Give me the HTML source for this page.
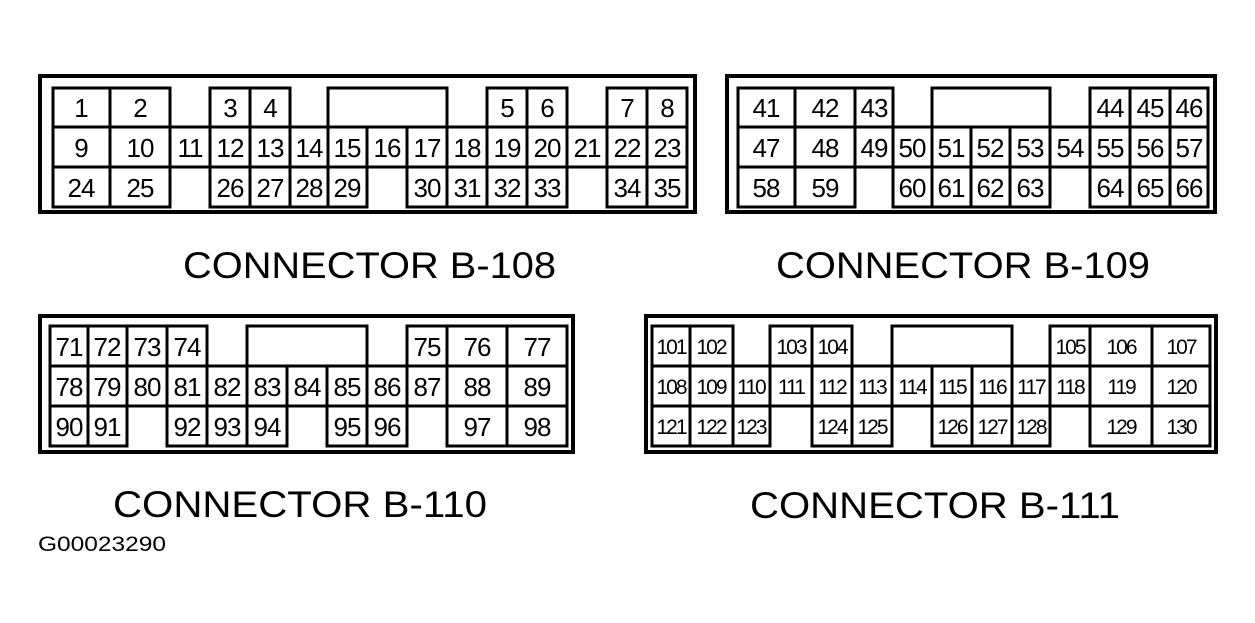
<!DOCTYPE html>
<html><head><meta charset="utf-8"><style>
html,body{margin:0;padding:0;background:#fff;width:1255px;height:623px;overflow:hidden}
svg{display:block}
.c rect,.c path{fill:none;stroke:#000;stroke-width:3}
.f{fill:none;stroke:#000;stroke-width:4}
text{font-family:"Liberation Sans",sans-serif;fill:#000}
.n{font-size:26px;text-anchor:middle;letter-spacing:-1px}
.s{font-size:21px;text-anchor:middle;letter-spacing:-2px}
.t{font-size:37px}
</style></head><body>
<svg width="1255" height="623" viewBox="0 0 1255 623">
<!-- B-108 -->
<rect class="f" x="40" y="76" width="655" height="136"/>
<g class="c">
<rect x="53" y="88" width="57" height="39"/><rect x="110" y="88" width="60" height="39"/><rect x="210" y="88" width="40" height="39"/><rect x="250" y="88" width="40" height="39"/>
<path d="M328,127V88H447V127"/>
<rect x="487" y="88" width="40" height="39"/><rect x="527" y="88" width="40" height="39"/><rect x="607" y="88" width="40" height="39"/><rect x="647" y="88" width="40" height="39"/>
<rect x="53" y="127" width="57" height="40"/><rect x="110" y="127" width="60" height="40"/><rect x="170" y="127" width="40" height="40"/><rect x="210" y="127" width="40" height="40"/><rect x="250" y="127" width="40" height="40"/><rect x="290" y="127" width="38" height="40"/><rect x="328" y="127" width="39" height="40"/><rect x="367" y="127" width="40" height="40"/><rect x="407" y="127" width="40" height="40"/><rect x="447" y="127" width="40" height="40"/><rect x="487" y="127" width="40" height="40"/><rect x="527" y="127" width="40" height="40"/><rect x="567" y="127" width="40" height="40"/><rect x="607" y="127" width="40" height="40"/><rect x="647" y="127" width="40" height="40"/>
<rect x="53" y="167" width="57" height="40"/><rect x="110" y="167" width="60" height="40"/><rect x="210" y="167" width="40" height="40"/><rect x="250" y="167" width="40" height="40"/><rect x="290" y="167" width="38" height="40"/><rect x="328" y="167" width="39" height="40"/><rect x="407" y="167" width="40" height="40"/><rect x="447" y="167" width="40" height="40"/><rect x="487" y="167" width="40" height="40"/><rect x="527" y="167" width="40" height="40"/><rect x="607" y="167" width="40" height="40"/><rect x="647" y="167" width="40" height="40"/>
</g>
<g class="n">
<text x="81" y="117">1</text><text x="140" y="117">2</text><text x="230" y="117">3</text><text x="270" y="117">4</text><text x="507" y="117">5</text><text x="547" y="117">6</text><text x="627" y="117">7</text><text x="667" y="117">8</text>
<text x="81" y="157">9</text><text x="140" y="157">10</text><text x="190" y="157">11</text><text x="230" y="157">12</text><text x="270" y="157">13</text><text x="309" y="157">14</text><text x="347" y="157">15</text><text x="387" y="157">16</text><text x="427" y="157">17</text><text x="467" y="157">18</text><text x="507" y="157">19</text><text x="547" y="157">20</text><text x="587" y="157">21</text><text x="627" y="157">22</text><text x="667" y="157">23</text>
<text x="81" y="197">24</text><text x="140" y="197">25</text><text x="230" y="197">26</text><text x="270" y="197">27</text><text x="309" y="197">28</text><text x="347" y="197">29</text><text x="427" y="197">30</text><text x="467" y="197">31</text><text x="507" y="197">32</text><text x="547" y="197">33</text><text x="627" y="197">34</text><text x="667" y="197">35</text>
</g>
<!-- B-109 -->
<rect class="f" x="727" y="76" width="488" height="136"/>
<g class="c">
<rect x="738" y="88" width="57" height="39"/><rect x="795" y="88" width="60" height="39"/><rect x="855" y="88" width="38" height="39"/>
<path d="M932,127V88H1050V127"/>
<rect x="1090" y="88" width="40" height="39"/><rect x="1130" y="88" width="40" height="39"/><rect x="1170" y="88" width="38" height="39"/>
<rect x="738" y="127" width="57" height="40"/><rect x="795" y="127" width="60" height="40"/><rect x="855" y="127" width="38" height="40"/><rect x="893" y="127" width="39" height="40"/><rect x="932" y="127" width="39" height="40"/><rect x="971" y="127" width="39" height="40"/><rect x="1010" y="127" width="40" height="40"/><rect x="1050" y="127" width="40" height="40"/><rect x="1090" y="127" width="40" height="40"/><rect x="1130" y="127" width="40" height="40"/><rect x="1170" y="127" width="38" height="40"/>
<rect x="738" y="167" width="57" height="40"/><rect x="795" y="167" width="60" height="40"/><rect x="893" y="167" width="39" height="40"/><rect x="932" y="167" width="39" height="40"/><rect x="971" y="167" width="39" height="40"/><rect x="1010" y="167" width="40" height="40"/><rect x="1090" y="167" width="40" height="40"/><rect x="1130" y="167" width="40" height="40"/><rect x="1170" y="167" width="38" height="40"/>
</g>
<g class="n">
<text x="766" y="117">41</text><text x="825" y="117">42</text><text x="874" y="117">43</text><text x="1110" y="117">44</text><text x="1150" y="117">45</text><text x="1189" y="117">46</text>
<text x="766" y="157">47</text><text x="825" y="157">48</text><text x="874" y="157">49</text><text x="912" y="157">50</text><text x="951" y="157">51</text><text x="990" y="157">52</text><text x="1030" y="157">53</text><text x="1070" y="157">54</text><text x="1110" y="157">55</text><text x="1150" y="157">56</text><text x="1189" y="157">57</text>
<text x="766" y="197">58</text><text x="825" y="197">59</text><text x="912" y="197">60</text><text x="951" y="197">61</text><text x="990" y="197">62</text><text x="1030" y="197">63</text><text x="1110" y="197">64</text><text x="1150" y="197">65</text><text x="1189" y="197">66</text>
</g>
<text class="t" x="183" y="278" textLength="373" lengthAdjust="spacingAndGlyphs">CONNECTOR B-108</text>
<text class="t" x="776" y="278" textLength="374" lengthAdjust="spacingAndGlyphs">CONNECTOR B-109</text>
<!-- B-110 -->
<rect class="f" x="40" y="316" width="533" height="136"/>
<g class="c">
<rect x="50" y="326" width="38" height="40"/><rect x="88" y="326" width="39" height="40"/><rect x="127" y="326" width="40" height="40"/><rect x="167" y="326" width="40" height="40"/>
<path d="M247,366V326H367V366"/>
<rect x="407" y="326" width="40" height="40"/><rect x="447" y="326" width="60" height="40"/><rect x="507" y="326" width="60" height="40"/>
<rect x="50" y="366" width="38" height="40"/><rect x="88" y="366" width="39" height="40"/><rect x="127" y="366" width="40" height="40"/><rect x="167" y="366" width="40" height="40"/><rect x="207" y="366" width="40" height="40"/><rect x="247" y="366" width="40" height="40"/><rect x="287" y="366" width="40" height="40"/><rect x="327" y="366" width="40" height="40"/><rect x="367" y="366" width="40" height="40"/><rect x="407" y="366" width="40" height="40"/><rect x="447" y="366" width="60" height="40"/><rect x="507" y="366" width="60" height="40"/>
<rect x="50" y="406" width="38" height="40"/><rect x="88" y="406" width="39" height="40"/><rect x="167" y="406" width="40" height="40"/><rect x="207" y="406" width="40" height="40"/><rect x="247" y="406" width="40" height="40"/><rect x="327" y="406" width="40" height="40"/><rect x="367" y="406" width="40" height="40"/><rect x="447" y="406" width="60" height="40"/><rect x="507" y="406" width="60" height="40"/>
</g>
<g class="n">
<text x="69" y="356">71</text><text x="107" y="356">72</text><text x="147" y="356">73</text><text x="187" y="356">74</text><text x="427" y="356">75</text><text x="477" y="356">76</text><text x="537" y="356">77</text>
<text x="69" y="396">78</text><text x="107" y="396">79</text><text x="147" y="396">80</text><text x="187" y="396">81</text><text x="227" y="396">82</text><text x="267" y="396">83</text><text x="307" y="396">84</text><text x="347" y="396">85</text><text x="387" y="396">86</text><text x="427" y="396">87</text><text x="477" y="396">88</text><text x="537" y="396">89</text>
<text x="69" y="436">90</text><text x="107" y="436">91</text><text x="187" y="436">92</text><text x="227" y="436">93</text><text x="267" y="436">94</text><text x="347" y="436">95</text><text x="387" y="436">96</text><text x="477" y="436">97</text><text x="537" y="436">98</text>
</g>
<!-- B-111 -->
<rect class="f" x="646" y="316" width="570" height="136"/>
<g class="c">
<rect x="652" y="326" width="38" height="40"/><rect x="690" y="326" width="43" height="40"/><rect x="770" y="326" width="42" height="40"/><rect x="812" y="326" width="40" height="40"/>
<path d="M892,366V326H1012V366"/>
<rect x="1050" y="326" width="40" height="40"/><rect x="1090" y="326" width="62" height="40"/><rect x="1152" y="326" width="58" height="40"/>
<rect x="652" y="366" width="38" height="40"/><rect x="690" y="366" width="43" height="40"/><rect x="733" y="366" width="37" height="40"/><rect x="770" y="366" width="42" height="40"/><rect x="812" y="366" width="40" height="40"/><rect x="852" y="366" width="40" height="40"/><rect x="892" y="366" width="40" height="40"/><rect x="932" y="366" width="40" height="40"/><rect x="972" y="366" width="40" height="40"/><rect x="1012" y="366" width="38" height="40"/><rect x="1050" y="366" width="40" height="40"/><rect x="1090" y="366" width="62" height="40"/><rect x="1152" y="366" width="58" height="40"/>
<rect x="652" y="406" width="38" height="40"/><rect x="690" y="406" width="43" height="40"/><rect x="733" y="406" width="37" height="40"/><rect x="812" y="406" width="40" height="40"/><rect x="852" y="406" width="40" height="40"/><rect x="932" y="406" width="40" height="40"/><rect x="972" y="406" width="40" height="40"/><rect x="1012" y="406" width="38" height="40"/><rect x="1090" y="406" width="62" height="40"/><rect x="1152" y="406" width="58" height="40"/>
</g>
<g class="s">
<text x="671" y="354">101</text><text x="711" y="354">102</text><text x="791" y="354">103</text><text x="832" y="354">104</text><text x="1070" y="354">105</text><text x="1121" y="354">106</text><text x="1181" y="354">107</text>
<text x="671" y="394">108</text><text x="711" y="394">109</text><text x="751" y="394">110</text><text x="791" y="394">111</text><text x="832" y="394">112</text><text x="872" y="394">113</text><text x="912" y="394">114</text><text x="952" y="394">115</text><text x="992" y="394">116</text><text x="1031" y="394">117</text><text x="1070" y="394">118</text><text x="1121" y="394">119</text><text x="1181" y="394">120</text>
<text x="671" y="434">121</text><text x="711" y="434">122</text><text x="751" y="434">123</text><text x="832" y="434">124</text><text x="872" y="434">125</text><text x="952" y="434">126</text><text x="992" y="434">127</text><text x="1031" y="434">128</text><text x="1121" y="434">129</text><text x="1181" y="434">130</text>
</g>
<text class="t" x="113" y="517" textLength="374" lengthAdjust="spacingAndGlyphs">CONNECTOR B-110</text>
<text class="t" x="750" y="518" textLength="370" lengthAdjust="spacingAndGlyphs">CONNECTOR B-111</text>
<text x="38" y="551" font-size="21" textLength="128" lengthAdjust="spacingAndGlyphs">G00023290</text>
</svg>
</body></html>
